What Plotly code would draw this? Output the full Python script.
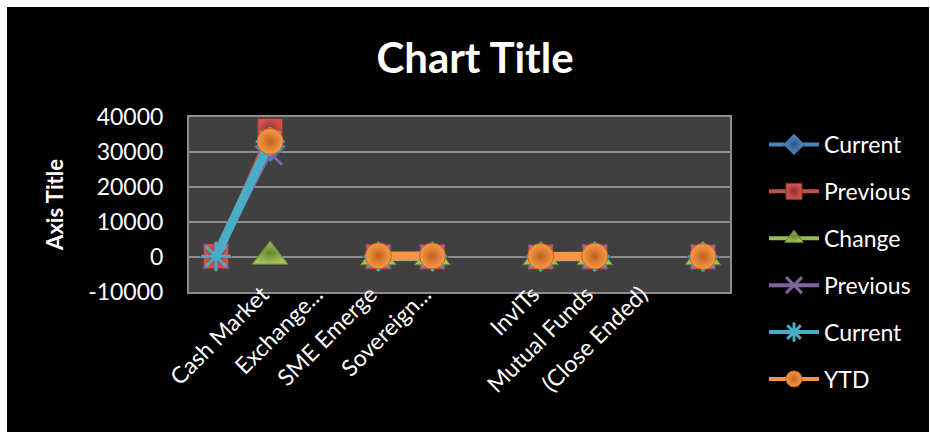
import plotly.graph_objects as go

# Segment names on the category axis (blank entries are spacer rows)
categories = ["", "Cash Market", "Exchange...", "SME Emerge", "Sovereign...",
              "", "InvITs", "Mutual Funds", "(Close Ended)", ""]

# Series values per category (None = no value)
current_1 = [180, 31500, None, 95, 70, None, 40, 55, None, 25]
previous_1 = [210, 36000, None, 110, 85, None, 35, 60, None, 30]
change = [None, 150, None, -15, -15, None, 5, -5, None, -5]
previous_2 = [160, 29700, None, 100, 75, None, 30, 50, None, 20]
current_2 = [190, 33000, None, 120, 90, None, 45, 65, None, 35]
ytd = [None, 33000, None, 310, 280, None, 150, 240, None, 120]

y_ticks = [-10000, 0, 10000, 20000, 30000, 40000]

FONT = "Lato, Carlito, Calibri, sans-serif"
W, H = 930, 432
L, R, T, B = 189, 200, 117, 140
PW, PH = W - L - R, H - T - B


def px_to_paper_x(px):
    return (px - L) / PW


def px_to_paper_y(py):
    return (H - B - py) / PH


x_idx = list(range(len(categories)))

series = [
    dict(name="Current", y=current_1, color="#4F81BD", symbol="diamond",
         fill="#5A8DCB", edge="#2F5485", size=24, lw=5, mlw=1),
    dict(name="Previous", y=previous_1, color="#C0504D", symbol="square",
         fill="#D4524E", edge="#8E302D", size=25, lw=5, mlw=1),
    dict(name="Change", y=change, color="#9BBB59", symbol="triangle-up",
         fill="#A3C45E", edge="#66852C", size=31, lw=5, mlw=1),
    dict(name="Previous", y=previous_2, color="#8064A2", symbol="x-thin-open",
         fill=None, edge=None, size=24, lw=4, mlw=3),
    dict(name="Current", y=current_2, color="#4BACC6", symbol="asterisk-open",
         fill=None, edge=None, size=24, lw=9, mlw=3),
    dict(name="YTD", y=ytd, color="#F79646", symbol="circle",
         fill="#F99B4A", edge="#C0621C", size=26, lw=9, mlw=1),
]

LEGEND_LINE = 4

fig = go.Figure()
for i, s in enumerate(series):
    if s["fill"] is not None:
        marker = dict(symbol=s["symbol"], size=s["size"], color=s["fill"],
                      gradient=dict(type="radial", color=s["edge"]),
                      line=dict(color=s["edge"], width=s["mlw"]))
    else:
        marker = dict(symbol=s["symbol"], size=s["size"], color=s["color"],
                      line=dict(color=s["color"], width=s["mlw"]))
    # series drawn on the chart
    fig.add_trace(go.Scatter(
        x=x_idx, y=s["y"], name=s["name"], mode="lines+markers",
        line=dict(color=s["color"], width=s["lw"]),
        marker=marker, connectgaps=False,
        legendgroup=f"g{i}", showlegend=False,
    ))
    # legend key with a uniform line weight
    fig.add_trace(go.Scatter(
        x=[None], y=[None], name=s["name"], mode="lines+markers",
        line=dict(color=s["color"], width=LEGEND_LINE),
        marker=marker, legendgroup=f"g{i}", showlegend=True,
    ))

grid = "#8C8C8C"

fig.update_layout(
    width=W, height=H,
    margin=dict(l=L, r=R, t=T, b=B, autoexpand=False),
    paper_bgcolor="black",
    plot_bgcolor="#404040",
    font=dict(family=FONT, color="white", size=22),
    title=dict(text="<b>Chart Title</b>", x=475 / W, xref="container",
               xanchor="center", y=1 - 58 / H, yref="container",
               yanchor="middle", font=dict(size=42, color="white", family=FONT)),
    showlegend=True,
    legend=dict(
        x=px_to_paper_x(764), xanchor="left",
        y=px_to_paper_y(123), yanchor="top",
        maxheight=320,
        font=dict(size=23, color="white", family=FONT),
        bgcolor="rgba(0,0,0,0)", traceorder="grouped",
        tracegroupgap=14, itemwidth=50,
    ),
    xaxis=dict(
        range=[-0.5, len(categories) - 0.5],
        tickmode="array", tickvals=x_idx, ticktext=categories,
        tickangle=-45, showgrid=False, zeroline=False,
        showline=True, linecolor=grid, linewidth=2, mirror=True,
        ticks="", ticklabelstandoff=-22, ticklabelshift=-8,
        tickfont=dict(size=23, color="white", family=FONT),
    ),
    yaxis=dict(
        range=[-10000, 40000], tickmode="array", tickvals=y_ticks,
        ticktext=[str(v) for v in y_ticks],
        showgrid=True, gridcolor=grid, gridwidth=2, zeroline=False,
        showline=True, linecolor=grid, linewidth=2, mirror=True,
        ticks="", ticklabelstandoff=19,
        tickfont=dict(size=23, color="white", family=FONT),
        title=dict(text="<b>Axis Title</b>", standoff=18,
                   font=dict(size=22, color="white", family=FONT)),
    ),
    shapes=[
        # white page border around the black chart frame
        dict(type="rect", xref="paper", yref="paper", layer="above",
             x0=px_to_paper_x(-5), x1=px_to_paper_x(W + 5),
             y0=px_to_paper_y(7), y1=px_to_paper_y(-5),
             fillcolor="white", line=dict(width=0)),
        dict(type="rect", xref="paper", yref="paper", layer="above",
             x0=px_to_paper_x(-5), x1=px_to_paper_x(7),
             y0=px_to_paper_y(H + 5), y1=px_to_paper_y(-5),
             fillcolor="white", line=dict(width=0)),
        dict(type="rect", xref="paper", yref="paper", layer="above",
             x0=px_to_paper_x(929), x1=px_to_paper_x(W + 5),
             y0=px_to_paper_y(H + 5), y1=px_to_paper_y(-5),
             fillcolor="white", line=dict(width=0)),
    ],
)

fig.write_html("out.html")
